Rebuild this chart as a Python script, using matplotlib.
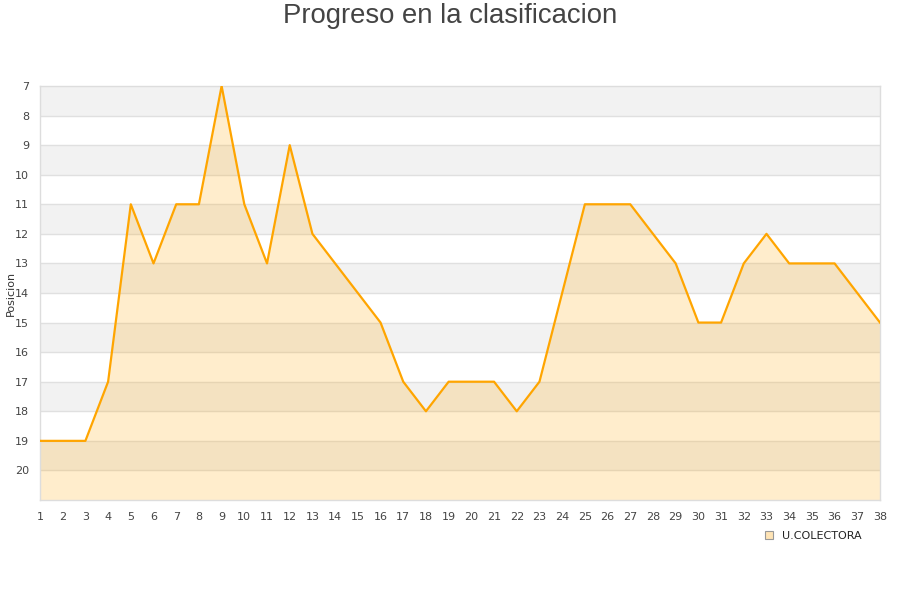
import matplotlib
matplotlib.use("Agg")
import matplotlib.pyplot as plt
from matplotlib.lines import Line2D

jornadas = list(range(1, 39))
posiciones = [19, 19, 19, 17, 11, 13, 11, 11, 7, 11, 13, 9, 12, 13, 14, 15, 17, 18,
              17, 17, 17, 18, 17, 14, 11, 11, 11, 12, 13, 15, 15, 13, 12, 13, 13, 13, 14, 15]
y_ticks = list(range(7, 21))
equipo = "U.COLECTORA"
titulo = "Progreso en la clasificacion"
y_label = "Posicion"

fig = plt.figure(figsize=(9, 6), dpi=100)
ax = fig.add_axes([40/900, 1-500/600, 840/900, 414/600])

ymin, ymax = 7, 21
ax.set_xlim(1, 38)
ax.set_ylim(ymax, ymin)

# alternating bands
for k in range(7, 21, 2):
    ax.axhspan(k, k+1, color='#f2f2f2', zorder=0, lw=0)
for k in range(8, 21):
    ax.axhline(k, color='#e0e0e0', lw=1, zorder=1)

ax.fill_between(jornadas, posiciones, ymax, color='#FFA500', alpha=0.2, lw=0, zorder=2)
ax.plot(jornadas, posiciones, color='#FFA500', lw=1.6, zorder=3)

ax.set_yticks(y_ticks)
ax.set_xticks(jornadas)
ax.tick_params(axis='both', length=0, labelsize=8, colors='#444444')
ax.tick_params(axis='x', pad=9)
ax.tick_params(axis='y', pad=8)
for s in ax.spines.values():
    s.set_color('#dddddd')
    s.set_linewidth(1)

fig.text(11/900, 1-293/600, y_label, rotation=90, ha='center', va='center',
         fontsize=8, color='#333333')
fig.text(0.5, 1-16/600, titulo, ha='center', va='center', fontsize=19.8,
         color='#444444', family='Liberation Sans')

handle = Line2D([], [], marker='s', linestyle='none', markersize=6,
                markerfacecolor='#FFE4B5', markeredgecolor='#999999', markeredgewidth=0.8)
fig.legend([handle], [equipo], loc='center', bbox_to_anchor=(810/900, 1-536/600),
           frameon=False, fontsize=8, handletextpad=0.2, labelcolor='#222222')

fig.savefig('out.png', dpi=100)
